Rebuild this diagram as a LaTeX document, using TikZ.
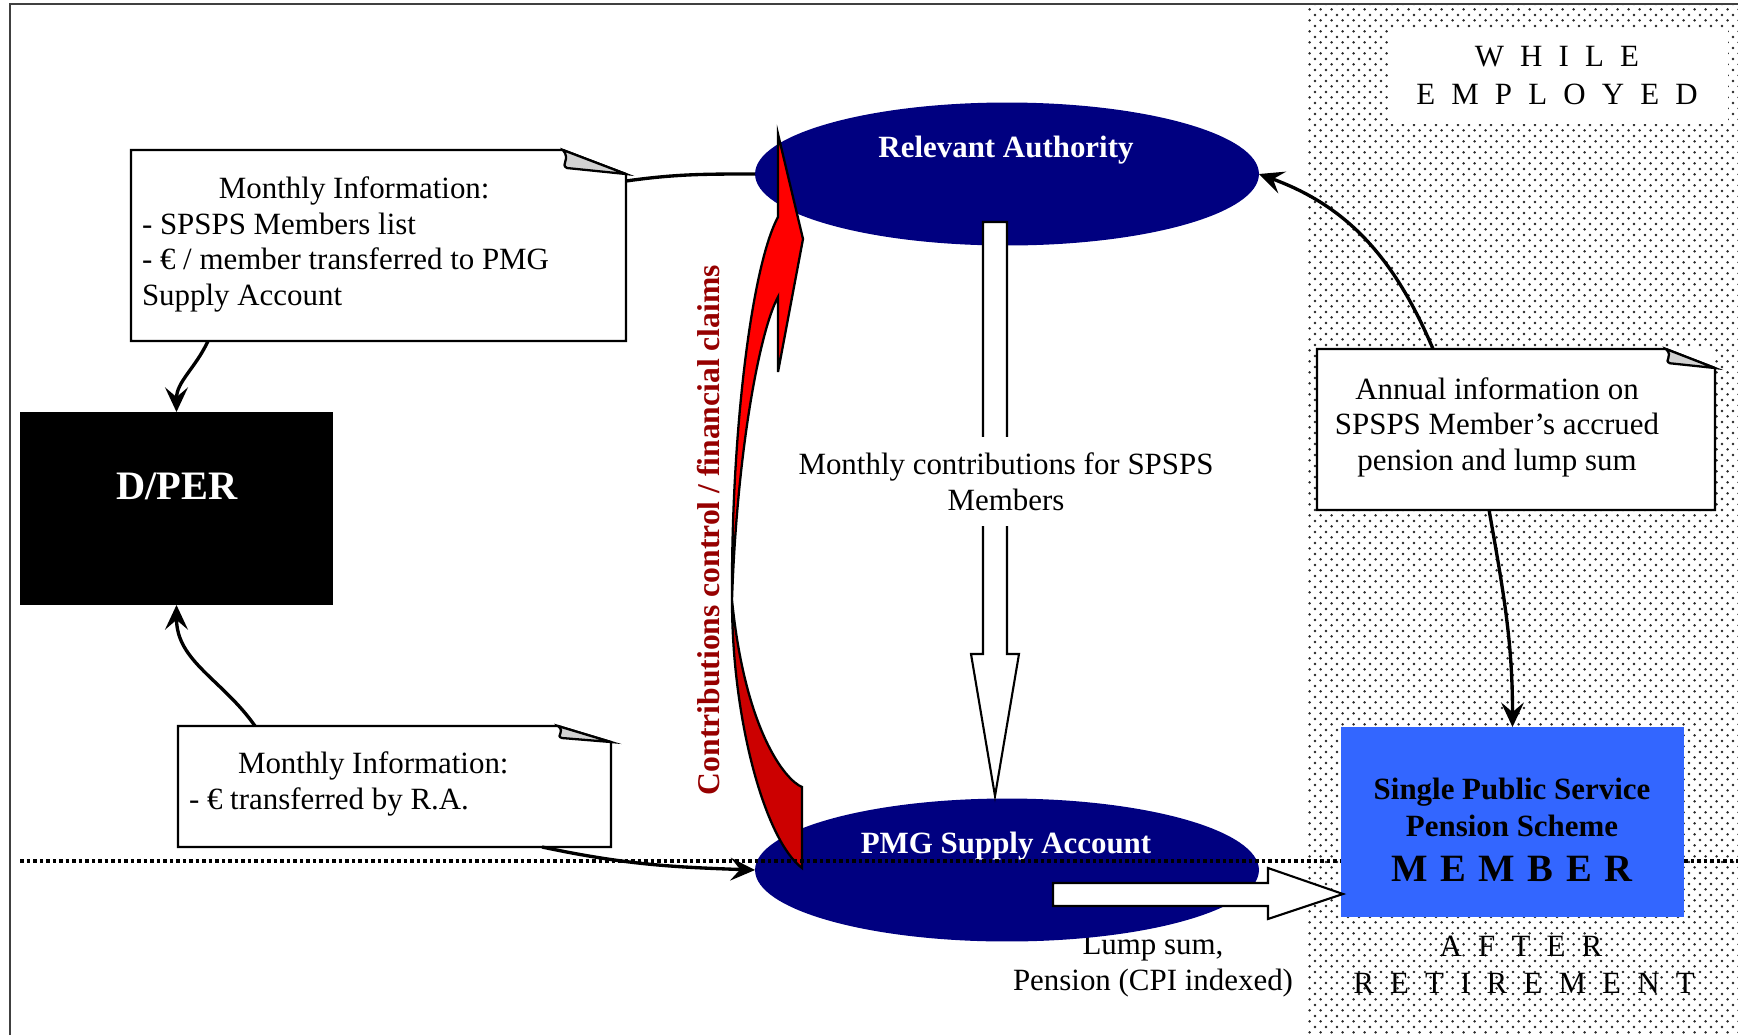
\documentclass[tikz,border=0pt]{standalone}
\usepackage{fontspec}
\setmainfont{Liberation Serif}
\usetikzlibrary{arrows.meta,patterns.meta,calc,shapes.geometric}
\definecolor{navyRA}{RGB}{0,0,128}
\definecolor{memberblue}{RGB}{51,102,255}
\definecolor{arrowred}{RGB}{255,0,0}
\definecolor{arrowdark}{RGB}{204,0,0}
\definecolor{textred}{RGB}{150,0,0}
\newcommand\lsp{\hspace{9.2pt}}
\newcommand\msp{\hspace{7.2pt}}
\newcommand\notefold[3]{%
  \draw[noteline] (#1.north west) -- ($(#1.north east)+(-#2,0)$) -- ($(#1.north east)+(0,#3)$) -- (#1.south east) -- (#1.south west) -- cycle;
  \draw[noteline, fill=gray!35] ($(#1.north east)+(-#2,0)$) .. controls ($(#1.north east)+(-#2+8,#3*0.4)$) and ($(#1.north east)+(-#2-3,#3*0.6)$) .. ($(#1.north east)+(-#2+4,#3*0.75)$) -- ($(#1.north east)+(0,#3)$) -- cycle;
}
\tikzdeclarepattern{name=stagdots, type=uncolored,
  bottom left={(0pt,0pt)}, top right={(6.15pt,6.2pt)}, tile size={(6.15pt,6.2pt)},
  code={\fill (1.5pt,1.5pt) circle (0.78pt); \fill (4.575pt,4.6pt) circle (0.78pt);}}
\begin{document}
\begin{tikzpicture}[x=0.02cm, y=-0.02cm,
  txt/.style={inner sep=0pt, outer sep=0pt, font=\fontsize{17.6}{20.2}\selectfont},
  btxt/.style={inner sep=0pt, outer sep=0pt, font=\fontsize{17.6}{20.6}\selectfont\bfseries},
  box/.style={rectangle, draw=none, fill=white, inner sep=0pt, outer sep=0pt},
  noteline/.style={line width=1.3pt, line join=miter},
  conn/.style={line width=1.9pt, -{Stealth[length=14pt,width=13pt,inset=5.5pt]}},
  plainline/.style={line width=1.9pt},
  blockarrow/.style={draw, fill=white, line width=1.2pt, line join=miter},
  redarrow/.style={draw=black, line width=1.3pt, line join=miter},
  oval/.style={ellipse, fill=navyRA, minimum width=10.08cm, minimum height=2.86cm, inner sep=0pt, outer sep=0pt},
  dotline/.style={line width=2pt, dash pattern=on 2pt off 1.7pt},
  frame/.style={line width=1pt, draw=black!75}]
\useasboundingbox (0,0) rectangle (1738,1035);
\fill[white] (0,0) rectangle (1738,1035);
% dotted region (after retirement / while employed side)
\fill[pattern=stagdots, pattern color=black!85] (1308,4) rectangle (1738,1035);
\draw[frame] (10,1035) -- (10,4) -- (1738,4);

% WHILE EMPLOYED
\node[box, minimum width=6.8cm, minimum height=1.92cm] (we) at (1558,76) {};
\node[txt, anchor=base] (we1) at (1557,66) {W\lsp H\lsp I\lsp L\lsp E};
\node[txt, anchor=base] (we2) at (1557,104) {E\lsp M\lsp P\lsp L\lsp O\lsp Y\lsp E\lsp D};

% note boxes
\node[box, minimum width=9.9cm, minimum height=3.82cm] (info1) at (378.5,245.5) {};
\notefold{info1}{63}{24}
\node[txt, anchor=base west, align=left] (info1t) at (142,305) {\hspace*{43.8pt}Monthly Information:\\- SPSPS Members list\\- € / member transferred to PMG\\Supply Account};

\node[box, minimum width=8.66cm, minimum height=2.42cm] (info2) at (394.5,786.5) {};
\notefold{info2}{53}{16}
\node[txt, anchor=base west, align=left] (info2t) at (189,809) {\hspace*{27.9pt}Monthly Information:\\- € transferred by R.A.};

\node[box, minimum width=7.96cm, minimum height=3.22cm] (annual) at (1516,429.5) {};
\notefold{annual}{49}{19}
\node[txt, anchor=base, align=center] (annualt) at (1497,470) {Annual information on\\SPSPS Member’s accrued\\pension and lump sum};

% D/PER
\node[rectangle, fill=black, minimum width=6.26cm, minimum height=3.86cm, inner sep=0pt, outer sep=0pt] (dper) at (176.5,508.5) {};
\node[inner sep=0pt, text=white, font=\fontsize{23}{26}\selectfont\bfseries, anchor=base] (dpert) at (177,499) {D/PER};

% lump sum label
\node[txt, anchor=base, align=center] (lump) at (1153,990) {Lump sum,\\Pension (CPI indexed)};

% ellipses
\node[oval] (ra) at (1007,174) {};
\node[btxt, text=white, anchor=base] (rat) at (1006,157) {Relevant Authority};
\node[oval] (pmg) at (1007,870) {};
\node[btxt, text=white, anchor=base] (pmgt) at (1006,853) {PMG Supply Account};

% vertical block arrow
\draw[blockarrow] (983,222) -- (1007,222) -- (1007,654) -- (1019,654) -- (995,796) -- (971,654) -- (983,654) -- cycle;
\node[txt, fill=white, anchor=base, align=center, inner xsep=4pt, inner ysep=9pt] (mc) at (1006,510) {Monthly contributions for SPSPS\\Members};

% red curved arrow
\filldraw[redarrow, fill=arrowred] (778,297) -- (778,372) -- (803,239) -- (778,134) -- (778,217)
  .. controls (752,265) and (731,430) .. (732,600)
  .. controls (737,450) and (760,330) .. (778,297) -- cycle;
\filldraw[redarrow, fill=arrowdark] (732,600) .. controls (732,720) and (765,840) .. (802,868)
  -- (802,787) .. controls (785,780) and (745,730) .. (732,600) -- cycle;
\node[inner sep=0pt, font=\fontsize{18}{20}\selectfont\bfseries, text=textred, rotate=90] (cc) at (709,530) {Contributions control / financial claims};

% dotted separator
\coordinate (dl) at (20,861);
\coordinate (dr) at (1738,861);
\draw[dotline] (dl) -- (dr);

% member box
\node[rectangle, fill=memberblue, minimum width=6.86cm, minimum height=3.8cm, inner sep=0pt, outer sep=0pt] (member) at (1512.5,822) {};
\node[btxt, anchor=base, align=center] (membert) at (1512,836) {Single Public Service\\Pension Scheme};
\node[inner sep=0pt, font=\fontsize{22}{24}\selectfont\bfseries, anchor=base] (memberm) at (1512,881) {M\msp E\msp M\msp B\msp E\msp R};

% horizontal block arrow
\draw[blockarrow] (1053,883) -- (1268,883) -- (1268,868) -- (1343,894) -- (1268,919) -- (1268,906) -- (1053,906) -- cycle;

% AFTER RETIREMENT
\node[txt, anchor=base] (ar1) at (1521,956) {A\lsp F\lsp T\lsp E\lsp R};
\node[txt, anchor=base] (ar2) at (1524,993) {R\lsp E\lsp T\lsp I\lsp R\lsp E\lsp M\lsp E\lsp N\lsp T};

% connectors
\draw[plainline] ($(info1.north east)+(0,31)$) to[out=8, in=180] (ra.west);
\draw[conn] ($(info1.south west)+(77,0)$) to[out=-115, in=90] (dper.north);
\draw[conn] ($(info2.north west)+(77,0)$) to[out=125, in=-90] (dper.south);
\draw[conn] ($(info2.south west)+(364,0)$) to[out=-12, in=178] (pmg.west);
\draw[conn] ($(annual.north west)+(116,0)$) to[out=113, in=-20] (ra.east);
\draw[conn] ($(annual.south west)+(172,0)$) to[out=-80, in=90] (member.north);
\end{tikzpicture}
\end{document}
